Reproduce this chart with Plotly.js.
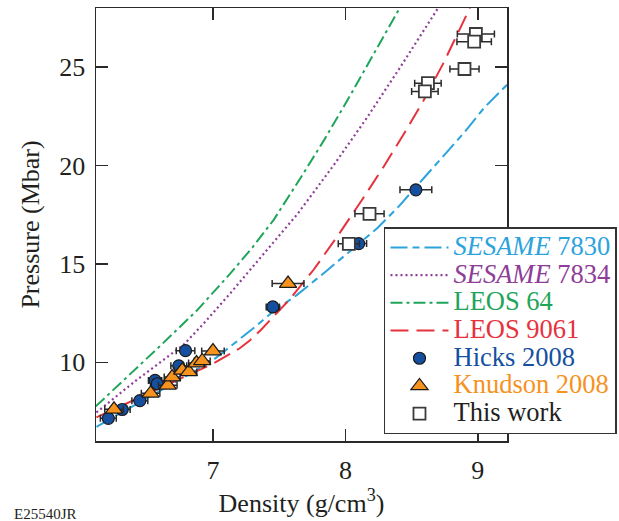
<!DOCTYPE html>
<html>
<head>
<meta charset="utf-8">
<script src="https://cdn.plot.ly/plotly-3.0.1.min.js"></script>
<style>html,body{margin:0;padding:0;background:#fff;}#chart{width:619px;height:521px;}</style>
</head>
<body>
<div id="chart"></div>
<script>
// ---- Data ----
const sesame7830X = [6.12, 6.45, 6.75, 6.98, 7.15, 7.30, 7.45, 7.63, 7.85, 8.05, 8.24, 8.40, 8.55, 8.74, 8.90, 9.05, 9.22];
const sesame7830Y = [6.72, 7.98, 9.12, 10.0, 10.9, 11.7, 12.55, 13.4, 14.6, 15.75, 16.81, 17.9, 19.05, 20.45, 21.7, 22.95, 24.1];

const sesame7834X = [6.12, 6.42, 6.78, 6.93, 7.13, 7.38, 7.64, 7.91, 8.16, 8.41, 8.55, 8.70];
const sesame7834Y = [7.45, 9.08, 10.9, 11.97, 13.5, 15.5, 17.55, 20.0, 22.4, 24.95, 26.45, 28.0];

const leos64X = [6.115, 6.40, 6.62, 6.88, 7.13, 7.30, 7.46, 7.66, 7.84, 8.04, 8.21, 8.41];
const leos64Y = [7.76, 9.55, 10.95, 12.64, 14.5, 15.85, 17.25, 19.35, 21.3, 23.6, 25.6, 28.0];

const leos9061X = [6.12, 7.0, 7.2, 7.28, 7.36, 7.58, 7.76, 7.96, 8.14, 8.29, 8.45, 8.59, 8.74, 8.94];
const leos9061Y = [7.2, 9.93, 10.7, 11.12, 11.63, 13.2, 14.7, 16.6, 18.4, 19.95, 21.7, 23.3, 25.2, 28.0];

const hicksX = [6.21, 6.315, 6.448, 6.563, 6.579, 6.742, 6.793, 7.452, 8.10, 8.532];
const hicksY = [7.15, 7.60, 8.05, 9.08, 8.91, 9.82, 10.59, 12.81, 16.03, 18.76];
const hicksErr = [0.06, 0.06, 0.06, 0.05, 0.05, 0.06, 0.07, 0.05, 0.06, 0.12];

const knudsonX = [6.253, 6.529, 6.659, 6.692, 6.768, 6.818, 6.876, 6.919, 7.0, 7.567];
const knudsonY = [7.61, 8.42, 8.83, 9.25, 9.59, 9.51, 9.96, 10.07, 10.57, 14.0];
const knudsonErr = [0.07, 0.07, 0.07, 0.06, 0.06, 0.06, 0.06, 0.06, 0.085, 0.12];

const thisWorkX = [8.026, 8.182, 8.623, 8.60, 8.899, 8.985, 8.972];
const thisWorkY = [16.02, 17.54, 24.18, 23.76, 24.90, 26.68, 26.29];
const thisWorkErr = [0.08, 0.11, 0.10, 0.10, 0.11, 0.14, 0.13];

const xTicks = [7, 8, 9];
const yTicks = [10, 15, 20, 25];

// ---- Styling ----
const C = {
  s7830: '#2ba3dd', s7834: '#8e3d98', l64: '#1fa55a', l9061: '#e6323d',
  hicks: '#1550a0', knud: '#f6921e', ink: '#2a2a2a'
};
const SERIF = 'Liberation Serif, Times New Roman, serif';
function lbl(txt, col) { return '<span style="color:' + col + ';font-size:26.5px">' + txt + '</span>'; }

const traces = [
  {x: sesame7830X, y: sesame7830Y, type: 'scatter', mode: 'lines', name: lbl('<i>SESAME</i> 7830', C.s7830),
   line: {color: C.s7830, width: 2, dash: '17px,5px,7px,5px'}},
  {x: sesame7834X, y: sesame7834Y, type: 'scatter', mode: 'lines', name: lbl('<i>SESAME</i> 7834', C.s7834),
   line: {color: C.s7834, width: 2.2, dash: '2px,3px'}},
  {x: leos64X, y: leos64Y, type: 'scatter', mode: 'lines', name: lbl('LEOS 64', C.l64),
   line: {color: C.l64, width: 2, dash: '12px,4px,3px,4px'}},
  {x: leos9061X, y: leos9061Y, type: 'scatter', mode: 'lines', name: lbl('LEOS 9061', C.l9061),
   line: {color: C.l9061, width: 2, dash: '18px,8px'}},
  {x: hicksX, y: hicksY, type: 'scatter', mode: 'markers', name: lbl('Hicks 2008', C.hicks),
   marker: {symbol: 'circle', size: 12, color: C.hicks, line: {color: '#1a1a1a', width: 1.2}},
   error_x: {type: 'data', array: hicksErr, visible: true, color: C.ink, thickness: 1.5, width: 3.5}},
  {x: knudsonX, y: knudsonY, type: 'scatter', mode: 'markers', name: lbl('Knudson 2008', C.knud),
   marker: {symbol: 'triangle-up', size: 15, color: C.knud, line: {color: '#1a1a1a', width: 1.2}},
   error_x: {type: 'data', array: knudsonErr, visible: true, color: C.ink, thickness: 1.5, width: 3.5}},
  {x: thisWorkX, y: thisWorkY, type: 'scatter', mode: 'markers', name: lbl('This work', '#231f20'),
   marker: {symbol: 'square', size: 12, color: '#ffffff', line: {color: '#3a3a3a', width: 1.8}},
   error_x: {type: 'data', array: thisWorkErr, visible: true, color: C.ink, thickness: 1.5, width: 3.5}}
];

const axisCommon = {
  showline: true, linecolor: C.ink, linewidth: 1.5, mirror: 'ticks',
  ticks: 'inside', ticklen: 12, tickwidth: 1.5, tickcolor: C.ink,
  showgrid: false, zeroline: false,
  tickfont: {family: SERIF, size: 26, color: '#231f20'}
};

const layout = {
  width: 619, height: 521,
  margin: {l: 96, r: 112, t: 8, b: 80, autoexpand: false},
  paper_bgcolor: '#ffffff', plot_bgcolor: '#ffffff',
  font: {family: SERIF, color: '#231f20'},
  showlegend: true,
  xaxis: Object.assign({}, axisCommon, {
    range: [6.117, 9.22], tickvals: xTicks, ticktext: xTicks.map(String),
    ticklabelstandoff: 5, automargin: false,
    title: {text: 'Density (g/cm<sup>3</sup>)', font: {family: SERIF, size: 26, color: '#231f20'}, standoff: 4}
  }),
  yaxis: Object.assign({}, axisCommon, {
    range: [6, 28], tickvals: yTicks, ticktext: yTicks.map(String),
    ticklabelstandoff: 4, automargin: false,
    title: {text: 'Pressure (Mbar)', font: {family: SERIF, size: 26, color: '#231f20'}, standoff: 12}
  }),
  legend: {
    x: 0.7007, xanchor: 'left', y: 0.494, yanchor: 'top',
    bgcolor: '#ffffff', bordercolor: '#333333', borderwidth: 1.5,
    font: {family: SERIF, size: 19, color: '#231f20'},
    itemwidth: 58, tracegroupgap: 0
  },
  annotations: [
    {text: 'E25540JR', xref: 'paper', yref: 'paper', x: -0.205, y: -0.168, xanchor: 'left', yanchor: 'middle',
     showarrow: false, font: {family: SERIF, size: 15, color: '#231f20'}}
  ]
};

Plotly.newPlot('chart', traces, layout, {displayModeBar: false, staticPlot: true});
</script>
</body>
</html>
